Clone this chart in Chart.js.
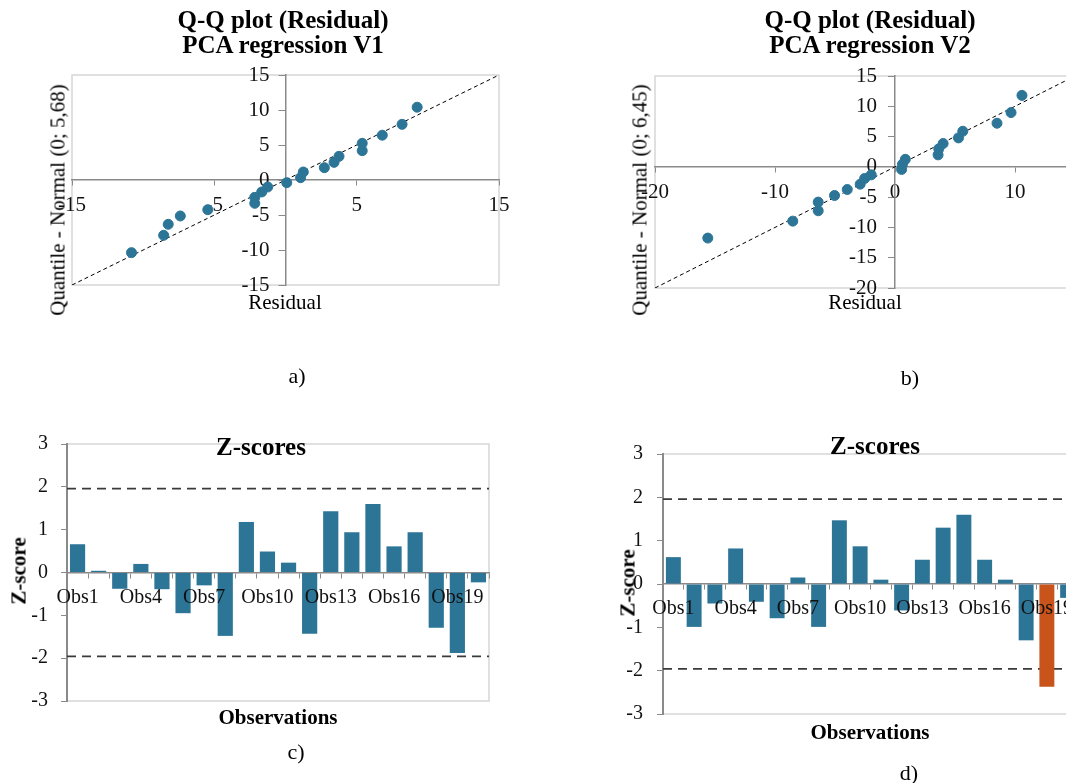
<!DOCTYPE html>
<html>
<head>
<meta charset="utf-8">
<script src="https://cdn.jsdelivr.net/npm/chart.js@4.4.0/dist/chart.umd.min.js"></script>
<style>
  html, body { margin: 0; padding: 0; width: 1066px; height: 783px; overflow: hidden; background: #fff; }
  body { position: relative; font-family: "Liberation Serif", "Times New Roman", serif; color: #000; }
  .box { position: absolute; }
  .t { position: absolute; white-space: nowrap; line-height: 1; }
  .c { transform: translate(-50%, -50%); }
  .r { transform: translate(-50%, -50%) rotate(-90deg); }
  .title { position: absolute; transform: translateX(-50%); text-align: center; font-weight: bold; font-size: 25px; line-height: 25px; white-space: nowrap; }
  .b { font-weight: bold; }
</style>
</head>
<body>

<div class="box" style="left:0;top:0;width:560px;height:340px"><canvas id="qq1"></canvas></div>
<div class="box" style="left:560px;top:0;width:640px;height:340px"><canvas id="qq2"></canvas></div>
<div class="box" style="left:0;top:400px;width:560px;height:360px"><canvas id="z1"></canvas></div>
<div class="box" style="left:600px;top:400px;width:600px;height:360px"><canvas id="z2"></canvas></div>

<div class="title" style="left:283px;top:7px">Q-Q plot (Residual)<br>PCA regression V1</div>
<div class="title" style="left:870px;top:7px">Q-Q plot (Residual)<br>PCA regression V2</div>
<div class="t r" style="left:58px;top:200px;font-size:21px">Quantile - Normal (0; 5,68)</div>
<div class="t r" style="left:640px;top:200px;font-size:21px">Quantile - Normal (0; 6,45)</div>
<div class="t c" style="left:285px;top:302px;font-size:21px">Residual</div>
<div class="t c" style="left:865px;top:302px;font-size:21px">Residual</div>
<div class="t c" style="left:297px;top:376px;font-size:22px">a)</div>
<div class="t c" style="left:910px;top:378px;font-size:22px">b)</div>

<div class="t c b" style="left:261px;top:446px;font-size:25px">Z-scores</div>
<div class="t c b" style="left:875px;top:445px;font-size:25px">Z-scores</div>
<div class="t r b" style="left:19px;top:571px;font-size:21px">Z-score</div>
<div class="t r b" style="left:628px;top:583px;font-size:21px">Z-score</div>
<div class="t c b" style="left:278px;top:717px;font-size:21px">Observations</div>
<div class="t c b" style="left:870px;top:732px;font-size:21px">Observations</div>
<div class="t c" style="left:296px;top:752px;font-size:22px">c)</div>
<div class="t c" style="left:909px;top:773px;font-size:22px">d)</div>

<script>
// ── Q-Q plot V1 (residual vs normal quantile, sd 5.68) ──
const qq1Residual = [-10.82, -8.56, -8.24, -7.39, -5.46, -2.16, -2.16, -1.67, -1.25, 0.09,
                     1.06, 1.25, 2.73, 3.41, 3.76, 5.39, 5.39, 6.8, 8.19, 9.25];
const qq1Quantile = [-10.38, -7.9, -6.33, -5.14, -4.24, -3.33, -2.48, -1.71, -1.0, -0.38,
                     0.33, 1.14, 1.76, 2.52, 3.38, 4.19, 5.24, 6.4, 7.95, 10.4];
const qq1LineX = [-15, 15];
const qq1LineY = [-15, 15];

// ── Q-Q plot V2 (sd 6.45) ──
const qq2Residual = [-15.6, -8.52, -6.4, -6.4, -5.04, -3.98, -2.9, -2.53, -1.98, 0.55,
                     0.62, 0.86, 3.59, 3.65, 4.01, 5.29, 5.65, 8.5, 9.67, 10.58];
const qq2Quantile = [-11.76, -8.96, -7.25, -5.82, -4.73, -3.74, -2.86, -1.92, -1.32, -0.42,
                     0.42, 1.24, 1.98, 2.97, 3.85, 4.78, 5.88, 7.2, 8.96, 11.8];
const qq2LineX = [-20, 20];
const qq2LineY = [-20, 20];

// ── Z-scores ──
const obsLabels = ['Obs1','Obs2','Obs3','Obs4','Obs5','Obs6','Obs7','Obs8','Obs9','Obs10',
                   'Obs11','Obs12','Obs13','Obs14','Obs15','Obs16','Obs17','Obs18','Obs19','Obs20'];
const zScoresV1 = [0.66, 0.04, -0.38, 0.2, -0.39, -0.95, -0.3, -1.48, 1.18, 0.49,
                   0.23, -1.43, 1.43, 0.94, 1.6, 0.61, 0.94, -1.29, -1.88, -0.23];
const zScoresV2 = [0.62, -0.99, -0.45, 0.82, -0.41, -0.79, 0.15, -0.99, 1.47, 0.87,
                   0.1, -0.61, 0.56, 1.3, 1.6, 0.56, 0.1, -1.3, -2.37, -0.32];
const zLimits = [-1.96, 1.96];
const zTicks = [-3, -2, -1, 0, 1, 2, 3];

const BLUE = '#2c7597';
const ORANGE = '#c9541b';
const AXIS = '#8a8a8a';
const FONT = 'Liberation Serif';

Chart.defaults.font.family = FONT;
Chart.defaults.color = '#111';
Chart.defaults.animation = false;

// marco gris claro del área de trazado
const framePlugin = {
  id: 'frame',
  beforeDraw(chart) {
    const { ctx, chartArea: a } = chart;
    ctx.save();
    ctx.strokeStyle = '#d6d6d6';
    ctx.lineWidth = 1.5;
    ctx.strokeRect(a.left, a.top, a.right - a.left, a.bottom - a.top);
    ctx.restore();
  }
};

// eje Y cruzando en x = 0 (las etiquetas quedan a su izquierda, con separación)
const centerYAxis = {
  id: 'centerYAxis',
  afterLayout(chart) {
    const ys = chart.scales.y;
    const px = chart.scales.x.getPixelForValue(0);
    ys.left = px - 80;
    ys.right = px;
  }
};

function pairs(xs, ys) {
  return xs.map((x, i) => ({ x: x, y: ys[i] }));
}

function qqChart(id, resid, quant, lineX, lineY, xr, yr, pad, ylPad) {
  return new Chart(document.getElementById(id), {
    type: 'scatter',
    data: {
      datasets: [
        {
          data: pairs(resid, quant),
          backgroundColor: BLUE,
          borderColor: BLUE,
          pointRadius: 5,
          pointHoverRadius: 5
        },
        {
          type: 'line',
          data: pairs(lineX, lineY),
          borderColor: '#000',
          borderWidth: 1,
          borderDash: [4, 3],
          pointRadius: 0,
          fill: false
        }
      ]
    },
    options: {
      responsive: true,
      maintainAspectRatio: false,
      layout: { padding: pad },
      plugins: { legend: { display: false }, tooltip: { enabled: false } },
      scales: {
        x: {
          type: 'linear',
          position: { y: 0 },
          min: xr[0], max: xr[1],
          ticks: { stepSize: xr[2], padding: 8, font: { size: 21 }, maxRotation: 0 },
          grid: { drawOnChartArea: false, tickLength: 5, color: AXIS },
          border: { color: AXIS, width: 1.5 }
        },
        y: {
          type: 'linear',
          position: 'left',
          min: yr[0], max: yr[1],
          afterFit: s => { s.width = 0; },
          ticks: { stepSize: 5, padding: ylPad, font: { size: 21 } },
          grid: { drawOnChartArea: false, tickLength: 7, color: AXIS },
          border: { color: AXIS, width: 1.5 }
        }
      }
    },
    plugins: [framePlugin, centerYAxis]
  });
}

qqChart('qq1', qq1Residual, qq1Quantile, qq1LineX, qq1LineY,
        [-15, 15, 10], [-15, 15], { left: 72, top: 75, right: 61, bottom: 55 }, 9);
qqChart('qq2', qq2Residual, qq2Quantile, qq2LineX, qq2LineY,
        [-20, 20, 10], [-20, 15], { left: 95, top: 76, right: 65, bottom: 52 }, 11);

function zChart(id, values, pad, axisW, yPad) {
  const colors = values.map(v => Math.abs(v) > zLimits[1] ? ORANGE : BLUE);
  const limitSets = zLimits.map(v => ({
    type: 'line',
    xAxisID: 'xl',
    data: [{ x: 0, y: v }, { x: 1, y: v }],
    borderColor: '#3a3a3a',
    borderWidth: 1.8,
    borderDash: [9, 6],
    pointRadius: 0,
    fill: false
  }));
  return new Chart(document.getElementById(id), {
    type: 'bar',
    data: {
      labels: obsLabels,
      datasets: [
        {
          data: values,
          backgroundColor: colors,
          borderWidth: 0,
          grouped: false,
          categoryPercentage: 1,
          barPercentage: 0.72
        },
        ...limitSets
      ]
    },
    options: {
      responsive: true,
      maintainAspectRatio: false,
      layout: { padding: pad },
      plugins: { legend: { display: false }, tooltip: { enabled: false } },
      scales: {
        x: {
          type: 'category',
          position: { y: 0 },
          ticks: {
            z: 1,
            autoSkip: false,
            maxRotation: 0,
            padding: 8,
            font: { size: 20 },
            callback: (v, i) => (i % 3 === 0 ? obsLabels[i] : '')
          },
          grid: { offset: true, drawOnChartArea: false, tickLength: 5, color: AXIS },
          border: { color: AXIS, width: 1.5 }
        },
        xl: { type: 'linear', display: false, offset: false, min: 0, max: 1 },
        y: {
          position: 'left',
          min: zTicks[0], max: zTicks[zTicks.length - 1],
          afterBuildTicks: s => { s.ticks = zTicks.map(v => ({ value: v })); },
          afterFit: s => { s.width = axisW; },
          ticks: { padding: yPad, font: { size: 20 } },
          grid: { drawOnChartArea: false, tickLength: 6, color: AXIS },
          border: { color: AXIS, width: 2 }
        }
      }
    },
    plugins: [framePlugin]
  });
}

zChart('z1', zScoresV1, { left: 0, top: 44, right: 71, bottom: 59 }, 67, 13);
zChart('z2', zScoresV2, { left: 0, top: 54, right: 122, bottom: 46 }, 63, 14);
</script>
</body>
</html>
